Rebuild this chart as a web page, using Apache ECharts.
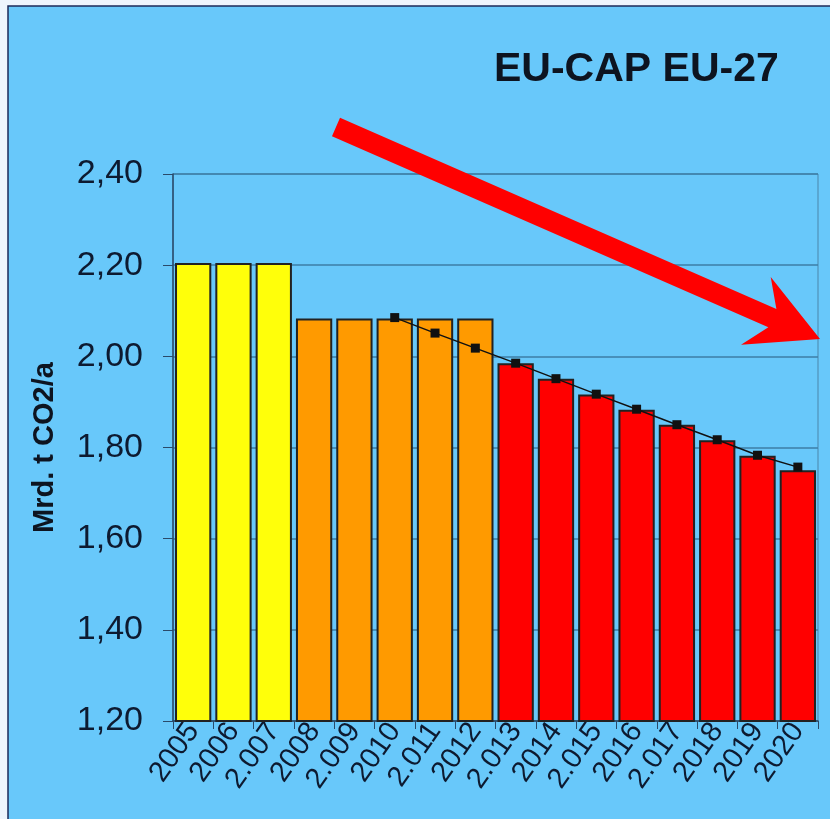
<!DOCTYPE html>
<html>
<head>
<meta charset="utf-8">
<script src="https://cdn.jsdelivr.net/npm/echarts@6/dist/echarts.min.js"></script>
<style>
html,body{margin:0;padding:0;background:#eef5fd;}
#c{width:830px;height:819px;}
</style>
</head>
<body>
<div id="c"></div>
<script>
// ---- data ----
const years = ['2005','2006','2.007','2008','2.009','2010','2.011','2012','2.013','2014','2.015','2016','2.017','2018','2019','2020'];
const capValues = [2.205, 2.205, 2.205, 2.083, 2.083, 2.083, 2.083, 2.083, 1.985, 1.951, 1.916, 1.883, 1.850, 1.816, 1.782, 1.750];
const trendValues = [null, null, null, null, null, 2.085, 2.051, 2.018, 1.985, 1.951, 1.917, 1.884, 1.850, 1.817, 1.783, 1.757];
const yTicks = [1.2, 1.4, 1.6, 1.8, 2.0, 2.2, 2.4];
const titleText = 'EU-CAP EU-27';
const yName = 'Mrd. t CO2/a';

const chart = echarts.init(document.getElementById('c'));

// decorative arrow geometry
const T = [336, 127], tip = [820, 339];
const L = Math.hypot(tip[0]-T[0], tip[1]-T[1]);
const u = [(tip[0]-T[0])/L, (tip[1]-T[1])/L];
const n = [-u[1], u[0]];
function P(s, p){ return [T[0] + s*u[0] + p*n[0], T[1] + s*u[1] + p*n[1]]; }
const arrowPts = [P(0,-10), P(L-52,-10), P(L-70,-37), P(L,0), P(L-70,37), P(L-52,10), P(0,10)];

function barColor(i){
  if (i < 3) return '#ffff0a';
  if (i < 8) return '#ff9a00';
  return '#ff0000';
}

chart.setOption({
  backgroundColor: '#eef5fd',
  animation: false,
  title: {
    text: titleText,
    left: 494, top: 49, padding: 0,
    textStyle: { fontFamily: 'Liberation Sans, Arial, sans-serif', fontWeight: 'bold', fontSize: 41, color: '#0d1420' }
  },
  graphic: [
    { type: 'rect', z: -10, shape: { x: 8, y: 6, width: 830, height: 820 },
      style: { fill: '#68c8fa', stroke: '#1c2a5a', lineWidth: 1.5 } },
    { type: 'polygon', z: 100, shape: { points: arrowPts }, style: { fill: '#ff0000' } }
  ],
  grid: { left: 173, right: 12, top: 174, bottom: 98, show: true, borderColor: '#4a86ab', borderWidth: 1, backgroundColor: 'transparent' },
  xAxis: {
    type: 'category',
    data: years,
    axisLine: { lineStyle: { color: '#2a4a6a', width: 1.5 } },
    axisTick: { show: true, length: 8, lineStyle: { color: '#2a4a6a' } },
    axisLabel: { interval: 0, rotate: 55, margin: 5, fontSize: 29, hideOverlap: false,
      fontFamily: 'Liberation Sans, Arial, sans-serif', color: '#0d1a30' }
  },
  yAxis: {
    type: 'value',
    min: yTicks[0], max: yTicks[yTicks.length-1], interval: 0.2,
    name: yName, nameLocation: 'middle', nameGap: 114, nameRotate: 90,
    nameTextStyle: { fontFamily: 'Liberation Sans, Arial, sans-serif', fontWeight: 'bold', fontSize: 29, color: '#0d1420' },
    axisLine: { show: true, lineStyle: { color: '#2a4a6a', width: 1.5 } },
    axisTick: { show: true, length: 10, lineStyle: { color: '#2a4a6a' } },
    axisLabel: { margin: 30, fontSize: 34, fontFamily: 'Liberation Sans, Arial, sans-serif', color: '#0d1a30',
      formatter: v => v.toFixed(2).replace('.', ',') },
    splitLine: { show: true, lineStyle: { color: '#3d7ea6', width: 1.5 } }
  },
  series: [
    {
      type: 'bar',
      data: capValues,
      barCategoryGap: '10%',
      itemStyle: { color: p => barColor(p.dataIndex), borderColor: '#222', borderWidth: 2 }
    },
    {
      type: 'line',
      data: trendValues,
      symbol: 'rect', symbolSize: 9,
      lineStyle: { color: '#111', width: 1.5 },
      itemStyle: { color: '#111' },
      z: 5
    }
  ]
});
</script>
</body>
</html>
